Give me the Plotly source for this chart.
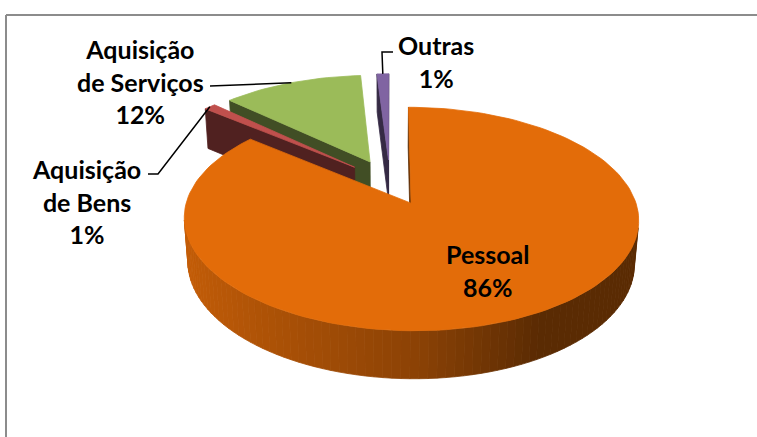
import numpy as np
import plotly.graph_objects as go

# ---------------- data ----------------
categories = ["Pessoal", "Aquisição de Bens", "Aquisição de Serviços", "Outras"]
values = [86, 1, 12, 1]
label_text = ["Pessoal", "Aquisição<br>de Bens", "Aquisição<br>de Serviços", "Outras"]
top_colors = ["#E36C09", "#C0504D", "#9BBB59", "#8064A2"]

# ---------------- 3D pie projection settings ----------------
W, H = 757, 437
CX, CY = 390, 182          # screen position of pie centre
F = 1400.0                 # focal scale
D = 6.4                    # camera distance (in radii)
SIN_P = 0.4735
PHI = np.arcsin(SIN_P)
S, C = np.sin(PHI), np.cos(PHI)
THICK = 0.225
EXPLODE = 0.22
CAM = np.array([0.0, D * S, D * C])


def project(X, Y, Z):
    X, Y, Z = np.asarray(X, float), np.asarray(Y, float), np.asarray(Z, float)
    depth = D - Y * S - Z * C
    sx = CX + F * X / depth
    sy = CY - F * (Y * C - Z * S) / depth
    return sx, sy


def hex2rgb(h):
    h = h.lstrip("#")
    return np.array([int(h[i:i + 2], 16) for i in (0, 2, 4)], float)


def shade(hexcol, f):
    r = np.clip(hex2rgb(hexcol) * f, 0, 255).astype(int)
    return "rgb(%d,%d,%d)" % tuple(r)


def visible(normal, point):
    return np.dot(normal, CAM - point) > 0


fig = go.Figure()


def add_poly(xs, ys, color):
    fig.add_trace(go.Scatter(
        x=list(xs) + [xs[0]], y=list(ys) + [ys[0]], mode="lines",
        fill="toself", fillcolor=color,
        line=dict(color=color, width=0.8),
        hoverinfo="skip", showlegend=False))


total = float(sum(values))
fracs = [v / total for v in values]
starts = np.concatenate([[0], np.cumsum(fracs)[:-1]]) * 360
ends = np.cumsum(fracs) * 360

slices = []
for i in range(len(values)):
    t0, t1 = np.radians(starts[i]), np.radians(ends[i])
    tm = 0.5 * (t0 + t1)
    ox, oz = EXPLODE * np.sin(tm), -EXPLODE * np.cos(tm)
    depth = D - oz * C
    slices.append((depth, i, t0, t1, tm, ox, oz))

# far slices first
slices.sort(key=lambda s: -s[0])

rim_mid = {}
for depth, i, t0, t1, tm, ox, oz in slices:
    col = top_colors[i]
    n = max(4, int(np.degrees(t1 - t0) / 2))
    ts = np.linspace(t0, t1, n + 1)
    rx = ox + np.sin(ts)
    rz = oz - np.cos(ts)

    # outer wall segments
    for k in range(n):
        tmid = 0.5 * (ts[k] + ts[k + 1])
        nrm = np.array([np.sin(tmid), 0, -np.cos(tmid)])
        pt = np.array([ox + np.sin(tmid), -THICK / 2, oz - np.cos(tmid)])
        if not visible(nrm, pt):
            continue
        nx = np.sin(tmid)
        f = 0.62 - 0.25 * nx if nx < 0 else max(0.40, 0.62 - 0.45 * nx)
        Xs = [rx[k], rx[k + 1], rx[k + 1], rx[k]]
        Ys = [0, 0, -THICK, -THICK]
        Zs = [rz[k], rz[k + 1], rz[k + 1], rz[k]]
        sx, sy = project(Xs, Ys, Zs)
        add_poly(sx, sy, shade(col, f))

    # radial (cut) faces
    for t, sign in ((t0, -1), (t1, 1)):
        nrm = sign * np.array([np.cos(t), 0, np.sin(t)])
        pt = np.array([ox + 0.5 * np.sin(t), -THICK / 2, oz - 0.5 * np.cos(t)])
        if not visible(nrm, pt):
            continue
        ex, ez = ox + np.sin(t), oz - np.cos(t)
        Xs = [ox, ex, ex, ox]
        Ys = [0, 0, -THICK, -THICK]
        Zs = [oz, ez, ez, oz]
        sx, sy = project(Xs, Ys, Zs)
        add_poly(sx, sy, shade(col, 0.42))

    # top face
    Xs = np.concatenate([[ox], rx])
    Zs = np.concatenate([[oz], rz])
    sx, sy = project(Xs, np.zeros_like(Xs), Zs)
    add_poly(sx, sy, col)

    mx, my = project(ox + np.sin(tm), 0, oz - np.cos(tm))
    rim_mid[i] = (float(mx), float(my))

# ---------------- labels ----------------
pct = [int(round(v / total * 100)) for v in values]
label_pos = {0: (487, 270), 1: (86, 201), 2: (140, 81), 3: (436, 61)}
font = dict(family="Lato", size=25, color="black")
for i in range(len(values)):
    x, y = label_pos[i]
    fig.add_annotation(x=x, y=y, xref="x", yref="y",
                       text="<b>%s<br>%d%%</b>" % (label_text[i], pct[i]),
                       showarrow=False, align="center", font=font,
                       xanchor="center", yanchor="middle")

# leader lines (label side -> slice rim)
leader_paths = {
    1: [(148, 174), (158, 174)],
    2: [(210, 86)],
    3: [(393, 52), (382, 52)],
}
for i, pts in leader_paths.items():
    pts = pts + [rim_mid[i]]
    path = "M %f %f " % pts[0] + " ".join("L %f %f" % p for p in pts[1:])
    fig.add_shape(type="path", path=path, xref="x", yref="y",
                  line=dict(color="black", width=1.5))

# chart-area frame: only the top and left edges fall inside the crop
frame = dict(color="#8C8C8C", width=2)
fig.add_shape(type="line", xref="paper", yref="paper",
              x0=6 / W, x1=1.0, y0=1 - 15 / H, y1=1 - 15 / H, line=frame)
fig.add_shape(type="line", xref="paper", yref="paper",
              x0=6 / W, x1=6 / W, y0=0.0, y1=1 - 15 / H, line=frame)

fig.update_layout(
    width=W, height=H, margin=dict(l=0, r=0, t=0, b=0),
    paper_bgcolor="white", plot_bgcolor="white",
    xaxis=dict(range=[0, W], visible=False, fixedrange=True),
    yaxis=dict(range=[H, 0], visible=False, fixedrange=True),
    showlegend=False,
)

fig.write_html(
    "out.html",
    config={"displayModeBar": False},
    post_script="document.body.style.margin='0';document.body.style.overflow='hidden';",
)
